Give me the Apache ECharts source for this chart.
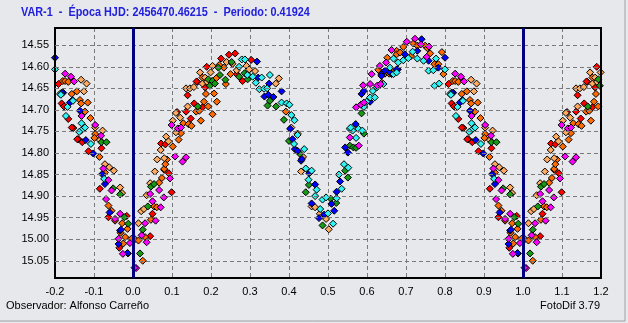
<!DOCTYPE html>
<html>
<head>
<meta charset="utf-8">
<script src="https://cdn.jsdelivr.net/npm/echarts@6/dist/echarts.min.js"></script>
<style>
html,body{margin:0;padding:0;background:#e7e8ec;}
#chart{width:628px;height:323px;}
</style>
</head>
<body>
<div id="chart"></div>
<script>
const titleText = 'VAR-1  -  Época HJD: 2456470.46215  -  Periodo: 0.41924';
const observerText = 'Observador: Alfonso Carreño';
const softwareText = 'FotoDif 3.79';
const xMin = -0.2, xMax = 1.2, xStep = 0.1;
const yTicks = [14.55, 14.60, 14.65, 14.70, 14.75, 14.80, 14.85, 14.90, 14.95, 15.00, 15.05];
const epochLines = [0.0, 1.0];

const red = [[0.984,14.946],[0.044,14.993],[0.05,14.941],[0.099,14.891],[0.092,14.847],[0.08,14.839],[0.072,14.778],[0.083,14.78],[0.113,14.705],[0.136,14.704],[0.148,14.72],[0.14,14.666],[0.157,14.685],[0.178,14.694],[0.165,14.635],[0.185,14.648],[0.163,14.634],[0.189,14.6],[0.226,14.581],[0.246,14.572],[0.262,14.569],[0.266,14.617],[0.281,14.633],[0.303,14.584],[0.809,14.64],[0.817,14.685],[0.823,14.692],[0.834,14.721],[0.847,14.742],[0.86,14.768],[0.87,14.775],[0.886,14.796],[0.919,14.789],[0.915,14.883],[0.937,14.949],[0.965,15.02],[0.843,14.741],[0.857,14.768]];
const orange = [[0.005,15.0],[0.025,15.05],[0.031,14.995],[0.046,14.955],[0.054,14.924],[0.067,14.869],[0.074,14.858],[0.08,14.837],[0.087,14.815],[0.083,14.826],[0.102,14.785],[0.117,14.769],[0.123,14.754],[0.129,14.731],[0.142,14.733],[0.15,14.737],[0.174,14.725],[0.162,14.704],[0.17,14.702],[0.182,14.681],[0.193,14.692],[0.204,14.71],[0.187,14.663],[0.208,14.662],[0.215,14.681],[0.178,14.625],[0.221,14.596],[0.233,14.602],[0.214,14.626],[0.238,14.64],[0.25,14.617],[0.392,14.704],[0.629,14.607],[0.638,14.637],[0.646,14.616],[0.652,14.579],[0.657,14.616],[0.668,14.609],[0.676,14.563],[0.676,14.571],[0.685,14.567],[0.693,14.554],[0.713,14.575],[0.719,14.546],[0.729,14.551],[0.749,14.551],[0.755,14.557],[0.762,14.569],[0.773,14.594],[0.783,14.594],[0.792,14.566],[0.796,14.617],[0.82,14.633],[0.826,14.633],[0.834,14.635],[0.843,14.663],[0.856,14.657],[0.864,14.677],[0.867,14.685],[0.884,14.683],[0.877,14.704],[0.891,14.719],[0.903,14.756],[0.901,14.765],[0.914,14.809],[0.928,14.845],[0.937,14.922],[0.945,14.934],[0.954,14.957],[0.972,14.963],[0.986,14.976],[0.996,14.999],[0.968,14.985],[0.98,14.995],[0.975,15.01],[0.014,15.003],[0.061,14.926]];
const lightOrange = [[0.014,14.963],[0.021,14.935],[0.028,14.93],[0.035,14.898],[0.056,14.843],[0.062,14.815],[0.08,14.812],[0.071,14.793],[0.085,14.762],[0.091,14.773],[0.11,14.752],[0.102,14.725],[0.121,14.718],[0.11,14.707],[0.14,14.692],[0.136,14.65],[0.146,14.65],[0.156,14.647],[0.172,14.613],[0.178,14.639],[0.204,14.598],[0.199,14.613],[0.185,14.625],[0.19,14.635],[0.24,14.589],[0.255,14.593],[0.266,14.608],[0.291,14.598],[0.298,14.606],[0.313,14.61],[0.366,14.639],[0.374,14.627],[0.406,14.741],[0.422,14.755],[0.436,14.809],[0.431,14.843],[0.458,14.924],[0.467,14.926],[0.479,14.941],[0.495,14.953],[0.502,14.977],[0.867,14.63],[0.881,14.639],[0.874,14.657],[0.903,14.741],[0.922,14.748],[0.915,14.77],[0.928,14.826],[0.939,14.833],[0.951,14.841],[0.967,14.88],[0.972,14.893],[0.044,14.87]];
const green = [[0.018,15.033],[0.038,14.924],[0.046,14.878],[0.054,14.872],[0.166,14.692],[0.197,14.644],[0.193,14.629],[0.219,14.602],[0.204,14.633],[0.21,14.639],[0.223,14.619],[0.237,14.63],[0.253,14.589],[0.272,14.623],[0.286,14.615],[0.294,14.629],[0.351,14.679],[0.345,14.69],[0.367,14.692],[0.387,14.723],[0.4,14.772],[0.428,14.802],[0.451,14.874],[0.443,14.891],[0.486,14.968],[0.507,14.906],[0.521,14.916],[0.544,14.841],[0.551,14.857],[0.556,14.783],[0.565,14.787],[0.572,14.788],[0.586,14.708],[0.592,14.755],[0.919,14.775],[0.932,14.775],[0.949,14.882],[0.967,14.896],[0.988,14.964],[0.978,14.949],[0.025,14.978]];
const blue = [[0.987,15.033],[0.318,14.588],[0.321,14.625],[0.349,14.639],[0.381,14.657],[0.337,14.669],[0.347,14.665],[0.36,14.67],[0.409,14.768],[0.403,14.744],[0.415,14.791],[0.422,14.795],[0.431,14.818],[0.452,14.847],[0.433,14.814],[0.467,14.873],[0.458,14.917],[0.509,14.918],[0.516,14.934],[0.477,14.951],[0.49,14.943],[0.531,14.866],[0.522,14.89],[0.544,14.787],[0.551,14.799],[0.571,14.733],[0.586,14.663],[0.592,14.656],[0.608,14.681],[0.637,14.617],[0.646,14.609],[0.663,14.617],[0.679,14.606],[0.637,14.621],[0.659,14.613],[0.676,14.606],[0.697,14.571],[0.729,14.563],[0.74,14.536],[0.758,14.586],[0.783,14.602],[0.8,14.579],[0.821,14.66],[0.864,14.702],[0.838,14.683],[0.879,14.77],[0.898,14.801],[0.928,14.872],[0.921,14.849],[0.94,14.938],[0.967,14.98],[0.963,15.011],[0.986,15.032],[0.969,14.978],[0.817,14.66],[0.845,14.677]];
const cyan = [[0.279,14.583],[0.287,14.583],[0.272,14.6],[0.293,14.619],[0.307,14.623],[0.315,14.637],[0.33,14.625],[0.351,14.619],[0.324,14.652],[0.336,14.651],[0.344,14.65],[0.381,14.683],[0.394,14.685],[0.401,14.688],[0.406,14.712],[0.414,14.724],[0.422,14.758],[0.413,14.779],[0.439,14.791],[0.443,14.836],[0.458,14.841],[0.45,14.862],[0.471,14.885],[0.467,14.9],[0.486,14.908],[0.495,14.903],[0.48,14.93],[0.522,14.905],[0.5,14.94],[0.513,14.964],[0.528,14.85],[0.541,14.826],[0.552,14.834],[0.535,14.883],[0.556,14.744],[0.563,14.748],[0.578,14.744],[0.588,14.748],[0.572,14.765],[0.558,14.741],[0.592,14.693],[0.599,14.681],[0.608,14.671],[0.62,14.671],[0.615,14.656],[0.625,14.648],[0.642,14.64],[0.659,14.602],[0.668,14.617],[0.676,14.613],[0.668,14.581],[0.68,14.59],[0.693,14.585],[0.706,14.58],[0.717,14.565],[0.729,14.581],[0.745,14.586],[0.758,14.609],[0.77,14.608],[0.777,14.581],[0.8,14.606],[0.785,14.639],[0.773,14.644],[0.813,14.663],[0.828,14.714],[0.868,14.731],[0.877,14.741],[0.867,14.748],[0.892,14.779],[0.815,14.665],[0.832,14.693],[0.846,14.679],[0.926,14.86],[0.862,14.751]];
const magenta = [[0.008,15.067],[0.035,15.007],[0.022,14.991],[0.058,14.957],[0.031,14.963],[0.071,14.926],[0.044,14.895],[0.05,14.912],[0.079,14.903],[0.095,14.859],[0.108,14.808],[0.127,14.82],[0.136,14.81],[0.099,14.735],[0.115,14.743],[0.123,14.741],[0.556,14.764],[0.579,14.783],[0.572,14.694],[0.584,14.688],[0.592,14.683],[0.59,14.643],[0.608,14.64],[0.612,14.617],[0.626,14.644],[0.635,14.64],[0.633,14.598],[0.649,14.59],[0.663,14.561],[0.702,14.542],[0.723,14.535],[0.738,14.548],[0.753,14.577],[0.759,14.553],[0.826,14.616],[0.841,14.623],[0.849,14.634],[0.868,14.714],[0.918,14.76],[0.924,14.836],[0.937,14.863],[0.945,14.887],[0.931,14.907],[0.967,14.941],[0.963,14.999],[0.974,15.034],[0.004,15.066],[0.992,15.009],[0.903,14.735],[0.954,14.953],[0.067,14.886]];

const groups = [
  {name:'red', data:red, color:'#ff0000'},
  {name:'orange', data:orange, color:'#ff6a00'},
  {name:'lightOrange', data:lightOrange, color:'#ffaa5e'},
  {name:'green', data:green, color:'#169a16'},
  {name:'blue', data:blue, color:'#0000ff'},
  {name:'cyan', data:cyan, color:'#30f4f4'},
  {name:'magenta', data:magenta, color:'#ff00ff'}
];

function wrapPhase(arr){
  const out = [];
  arr.forEach(function(p){
    out.push([p[0], p[1]]);
    if (p[0] >= 0.8) out.push([p[0]-1, p[1]]);
    if (p[0] <= 0.2) out.push([p[0]+1, p[1]]);
  });
  return out;
}

const chart = echarts.init(document.getElementById('chart'), null, {renderer:'canvas'});
const FONT = 'Liberation Sans';

const series = [];
series.push({
  type:'scatter', data:[], silent:true, z:1,
  markLine:{
    silent:true, symbol:['none','none'], animation:false,
    label:{show:false},
    lineStyle:{color:'#7a7a7a', type:[4,3], width:1},
    data: yTicks.map(function(v){ return {yAxis:v}; })
  }
});
groups.forEach(function(g){
  series.push({
    type:'scatter', name:g.name, data:wrapPhase(g.data), z:3,
    symbol:'diamond', symbolSize:7,
    itemStyle:{color:g.color, borderColor:'#000', borderWidth:1, opacity:1},
    emphasis:{disabled:true}
  });
});
series.push({
  type:'scatter', data:[], silent:true, z:5,
  markLine:{
    silent:true, symbol:['none','none'], animation:false,
    label:{show:false},
    lineStyle:{color:'#000080', type:'solid', width:3},
    data: epochLines.map(function(v){ return {xAxis:v}; })
  }
});

chart.setOption({
  animation:false,
  backgroundColor:'#e7e8ec',
  grid:{left:55, right:27, top:28, bottom:45, show:true, borderColor:'#000', borderWidth:2, backgroundColor:'transparent', z:4},
  xAxis:{
    type:'value', min:xMin, max:xMax, interval:xStep,
    axisLine:{show:false}, axisTick:{show:false},
    splitLine:{show:true, lineStyle:{color:'#7a7a7a', type:[4,3], width:1}},
    axisLabel:{color:'#000', fontFamily:FONT, fontSize:11, margin:8,
      formatter:function(v){ return v.toFixed(1); }}
  },
  yAxis:{
    type:'value', inverse:true, min:14.51, max:15.09, interval:0.01,
    axisLine:{show:false}, axisTick:{show:false}, splitLine:{show:false},
    axisLabel:{color:'#000', fontFamily:FONT, fontSize:11, margin:6,
      formatter:function(v){
        const c = Math.round(v*100);
        return (c % 5 === 0) ? (c/100).toFixed(2) : '';
      }}
  },
  graphic:[
    {type:'text', x:21, y:6, scaleX:0.835, style:{text:titleText, fill:'#2020dd', font:'bold 13px "Liberation Sans"'}},
    {type:'text', left:6, top:300, style:{text:observerText, fill:'#000', font:'11px "Liberation Sans"'}},
    {type:'text', right:28, top:300, style:{text:softwareText, fill:'#000', font:'11px "Liberation Sans"'}},
    {type:'line', shape:{x1:625, y1:0, x2:625, y2:321}, style:{stroke:'#a0a0a0', lineWidth:1}},
    {type:'line', shape:{x1:0, y1:321, x2:625, y2:321}, style:{stroke:'#a0a0a0', lineWidth:1}}
  ],
  series:series
});
</script>
</body>
</html>
